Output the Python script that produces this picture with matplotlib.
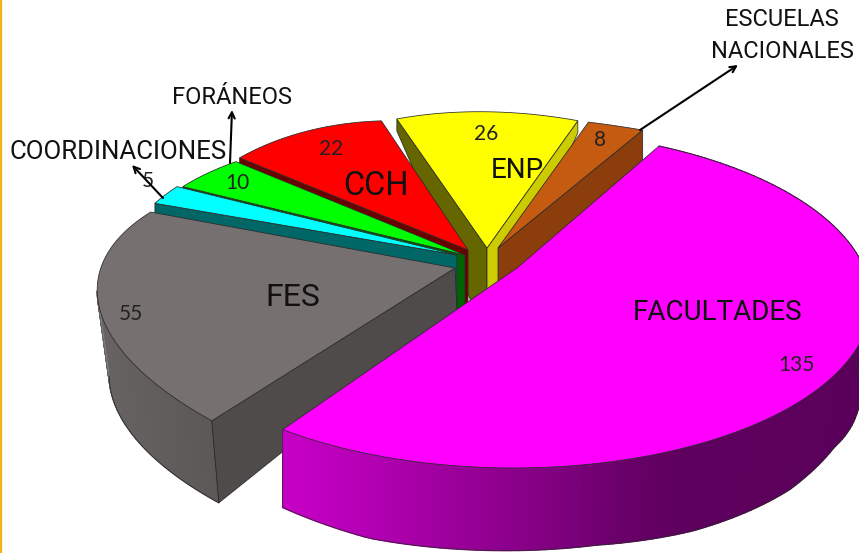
import numpy as np
import matplotlib
matplotlib.use("Agg")
import matplotlib.pyplot as plt
from matplotlib.colors import to_rgb

# ---- data (clockwise from the large slice)
categories = ["FACULTADES", "FES", "COORDINACIONES", "FORÁNEOS", "CCH", "ENP", "ESCUELAS\nNACIONALES"]
values = [135, 55, 5, 10, 22, 26, 8]

# ---- look of each slice
face_colors = ["#ff00ff", "#767170", "#00ffff", "#00ff00", "#ff0000", "#ffff00", "#c55a11"]
start_wall = [None, "#4f4b4a", "#006666", "#006400", "#6a0000", "#666600", None]
end_wall = [None, None, None, None, None, "#cccc00", "#8b3e0b"]
origins = [(509, 299), (455, 268), (457, 255), (465, 255), (468, 250), (487, 248), (498, 248)]
apexes = [(517, 268), (455, 268), (457, 255), (465, 255), (468, 250), (487, 248), (498, 248)]
r_ends = [(1.0, 1.0), (1.306, .857), (.849, .814), (.82, .753), (.75, .66), (.668, .706), (.70, .717)]
rot_ends = [(0, 0), (-1.3, -3.7), (-4.4, -3.9), (-4, -3.5), (-3.7, 1.1), (0, .6), (.8, -1)]
edge_depth = [(0, 0), (82, 0), (10, 0), (4, 0), (8, 0), (12, 12), (0, 30)]
apex_depth = [0, 44, 60, 60, 60, 90, 45]
draw_order = [5, 6, 4, 3, 2, 1, 0]
arc_wall = [True, True, False, False, False, False, False]

# disc projection of the small slices and of the front slice
U_BACK, V_BACK, PERSP_BACK = np.array([178., -140.]), np.array([335., 110.]), -0.13
U_FRONT, V_FRONT = np.array([189., -143.]), np.array([309., 90.])
FRONT_T0, FRONT_STRETCH = -7.0, 1.043

W, H = 859, 553
fig = plt.figure(figsize=(W / 100, H / 100), dpi=100, facecolor="white")
ax = fig.add_axes([0, 0, 1, 1])
ax.set_xlim(0, W)
ax.set_ylim(H, 0)
ax.axis("off")

LINE = "#2a2a2a"
EDGE = dict(edgecolor=LINE, linewidth=0.55)
z = [10]


def nz():
    z[0] += 1
    return z[0]


def rim(i, t0, t1, n=140):
    if i == 0:
        t0, t1 = FRONT_T0 + t0 * FRONT_STRETCH, FRONT_T0 + t1 * FRONT_STRETCH
        u, v, persp = U_FRONT, V_FRONT, 0.0
    else:
        u, v, persp = U_BACK, V_BACK, PERSP_BACK
    ts = np.radians(np.linspace(t0, t1, n))
    frac = np.linspace(0, 1, n)
    d = 1 + persp * np.cos(ts)
    p = (np.outer(np.cos(ts), u) + np.outer(np.sin(ts), v)) / d[:, None]
    r = np.interp(frac, [0, 1], r_ends[i])
    rot = np.radians(np.interp(frac, [0, 1], rot_ends[i]))
    x = (p[:, 0] * np.cos(rot) - p[:, 1] * np.sin(rot)) * r
    y = (p[:, 0] * np.sin(rot) + p[:, 1] * np.cos(rot)) * r
    return x + origins[i][0], y + origins[i][1]


def arc_dx(x):
    return np.interp(x, [97, 213, 283, 600, 800, 871], [12, 7, 0, -3, -10, -11])


def arc_dy(x):
    return np.interp(x, [97, 213, 283, 370, 470, 600, 700, 800, 845, 871],
                     [85, 82, 78, 84, 83, 82, 87, 88, 83, 90])


def shade(i, x):
    if i == 0:
        xs = [283, 370, 470, 560, 630, 690, 859]
        cs = ["#c800c8", "#b400b4", "#980098", "#800080", "#680068", "#5e005e", "#5a005a"]
    else:
        xs = [97, 150, 213]
        cs = ["#676362", "#625e5d", "#5c5857"]
    rgb = np.array([to_rgb(c) for c in cs])
    return tuple(np.interp(x, xs, rgb[:, k]) for k in range(3))


angles = np.concatenate([[0], np.cumsum(values) / np.sum(values) * 360])

for i in draw_order:
    t0, t1 = angles[i], angles[i + 1]
    x, y = rim(i, t0, t1)
    ax0, ay0 = apexes[i]
    if arc_wall[i]:
        bx, by = x + arc_dx(x), y + arc_dy(x)
        # the back slice's wall ends where its rim turns away from the viewer
        stop = int(np.argmin(x)) + 1 if i == 1 else len(x)
        zq = nz()
        for k in range(stop - 1):
            c = shade(i, x[k])
            ax.fill([x[k], x[k + 1], bx[k + 1], bx[k]], [y[k], y[k + 1], by[k + 1], by[k]],
                    facecolor=c, edgecolor=c, linewidth=1.0, zorder=zq)
        ax.plot(bx[:stop], by[:stop], color=LINE, lw=0.55, zorder=nz())
        if i == 1:
            ax.plot([x[0], bx[0]], [y[0], by[0]], color=LINE, lw=0.55, zorder=nz())
            ax.plot([x[stop - 1], bx[stop - 1]], [y[stop - 1], by[stop - 1]], color="#8a8a8a", lw=0.5, zorder=nz())
        else:
            ax.plot([x[-1], bx[-1]], [y[-1], by[-1]], color=LINE, lw=0.55, zorder=nz())
    for wall, idx, dep in ((start_wall[i], 0, edge_depth[i][0]), (end_wall[i], -1, edge_depth[i][1])):
        if wall is None:
            continue
        ex, ey = x[idx], y[idx]
        dx = arc_dx(ex) if i == 1 else 0
        ax.fill([ax0, ex, ex + dx, ax0 + (2 if i == 1 else 0)],
                [ay0, ey, ey + dep, ay0 + apex_depth[i]], facecolor=wall, zorder=nz(), **EDGE)
    ax.fill(np.r_[ax0, x], np.r_[ay0, y], facecolor=face_colors[i], zorder=nz(), **EDGE)

# ---- text
TOP = nz() + 10
ROB = dict(family="Roboto", color="#111111", ha="center", va="center", zorder=TOP)
LAT = dict(family="Lato", color="#222222", ha="center", va="center", fontsize=15, zorder=TOP)

ax.text(718, 312, categories[0], fontsize=20, **ROB)
ax.text(293, 298, categories[1], fontsize=23, **ROB)
ax.text(118, 152, categories[2], fontsize=18.6, **ROB)
ax.text(232, 98, categories[3], fontsize=17, **ROB)
ax.text(376, 186, categories[4], fontsize=23.5, **ROB)
ax.text(517, 171, categories[5], fontsize=20, **ROB)
for line, ly in zip(categories[6].split("\n"), (20, 52)):
    ax.text(782, ly, line, fontsize=17, **ROB)

label_pos = [(796, 365), (131, 314), (148, 181), (237, 183), (331, 149), (486, 134), (600, 140)]
for v, (lx, ly) in zip(values, label_pos):
    ax.text(lx, ly, str(v), **LAT)

# ---- call-out arrows
arrow = dict(arrowstyle="->", color="black", lw=1.5, mutation_scale=11, shrinkA=0, shrinkB=0)
for tip, tail in (((132, 165), (163, 198)), ((232, 110), (230, 163)), ((738, 65), (640, 130))):
    ax.annotate("", xy=tip, xytext=tail, arrowprops=arrow, zorder=TOP)

# ---- thin border on the left
ax.axvline(0.8, color="#f0b414", lw=1.6, zorder=TOP)

fig.savefig("out.png", dpi=100, facecolor="white")
